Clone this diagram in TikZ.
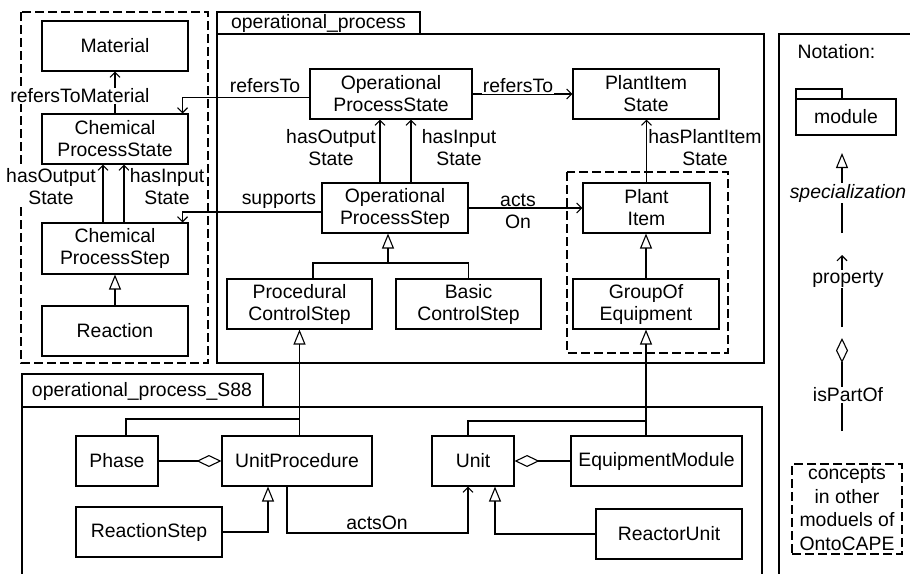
\documentclass[tikz,border=0pt]{standalone}
\usepackage{fontspec}
\setmainfont{Liberation Sans}
\usetikzlibrary{arrows.meta}
\begin{document}
\begin{tikzpicture}[x=1pt,y=-1pt,
  every node/.style={font=\fontsize{19.4}{22}\selectfont},
  box/.style={draw, line width=1.1pt, align=center, inner sep=0pt, minimum height=50pt},
  lbl/.style={fill=white, align=center, inner sep=1pt},
  plain/.style={align=center, inner sep=1pt},
  ln/.style={line width=1.1pt},
  prop/.style={ln, -{Straight Barb[length=5pt,width=10pt]}},
  spec/.style={ln, -{Triangle[open,length=15pt,width=12pt]}},
  aggr/.style={ln, -{Diamond[open,length=25pt,width=12pt]}},
  dashbox/.style={line width=1.1pt, dash pattern=on 9pt off 4pt},
]
\useasboundingbox (0,0) rectangle (910,573);

% module frames
\draw[dashbox] (21,12) rectangle (208,363);
\draw[dashbox] (567,172) rectangle (728,353);
\draw[ln] (217,12) rectangle (420,34);
\draw[ln] (217,34) rectangle (764,363);
\node (optab) at (318.5,23) {operational\_process};
\draw[ln] (22,374) rectangle (263,407);
\draw[ln] (22,590) -- (22,407) -- (762,407) -- (762,590);
\node (s88tab) at (142,391) {operational\_process\_S88};
\draw[ln] (779,590) -- (779,34) -- (920,34);

% classes
\node[box, minimum width=146pt] (mat) at (115,46) {Material};
\node[box, minimum width=146pt] (cps) at (115,139) {Chemical\\ProcessState};
\node[box, minimum width=146pt, minimum height=51pt] (cstep) at (115,248.5) {Chemical\\ProcessStep};
\node[box, minimum width=146pt] (reac) at (115,331) {Reaction};
\node[box, minimum width=162pt] (opst) at (391,94) {Operational\\ProcessState};
\node[box, minimum width=146pt] (pist) at (646,94) {PlantItem\\State};
\node[box, minimum width=146pt] (opstep) at (395,208) {Operational\\ProcessStep};
\node[box, minimum width=127pt] (pitem) at (646.5,208) {Plant\\Item};
\node[box, minimum width=145pt] (pcs) at (299.5,304) {Procedural\\ControlStep};
\node[box, minimum width=145pt] (bcs) at (468.5,304) {Basic\\ControlStep};
\node[box, minimum width=146pt] (goe) at (646,304) {GroupOf\\Equipment};
\node[box, minimum width=82pt] (phase) at (117,461) {Phase};
\node[box, minimum width=150pt] (up) at (297,461) {UnitProcedure};
\node[box, minimum width=146pt] (rs) at (149,532) {ReactionStep};
\node[box, minimum width=82pt] (unit) at (473,461) {Unit};
\node[box, minimum width=171pt] (em) at (656.5,461) {EquipmentModule};
\node[box, minimum width=146pt] (ru) at (669,534) {ReactorUnit};

% junction points of the connectors
\coordinate (tj) at (388,263);
\coordinate (phj) at (299.5,419);
\coordinate (uj) at (646,421);
\coordinate (rowa) at (380,533);

% properties
\draw[prop] (cps.north) -- (mat.south);
\draw[prop] ([yshift=-3.5pt]opst.west) -| ([xshift=-6pt]cps.north east);
\draw[prop] (opst.east) -- (pist.west);
\draw[prop] ([xshift=-12pt]cstep.north) -- ([xshift=-12pt]cps.south);
\draw[prop] ([xshift=9pt]cstep.north) -- ([xshift=9pt]cps.south);
\draw[prop] ([xshift=-15pt]opstep.north) -- ([xshift=-15pt]opstep.north |- opst.south);
\draw[prop] ([xshift=16pt]opstep.north) -- ([xshift=16pt]opstep.north |- opst.south);
\draw[prop] ([yshift=-4pt]opstep.west) -| ([xshift=-6pt]cstep.north east);
\draw[prop] (opstep.east) -- (pitem.west);
\draw[prop] (pitem.north) -- (pitem.north |- pist.south);
\draw[prop] ([xshift=-10pt]up.south) |- (rowa) -| ([xshift=-5pt]unit.south);

% specializations
\draw[spec] (reac.north) -- (cstep.south);
\draw[ln] ([xshift=13.5pt]pcs.north) |- (tj) -| (bcs.north);
\draw[spec] (tj) -- (tj |- opstep.south);
\draw[spec] (goe.north) -- (goe.north |- pitem.south);
\draw[spec] (pcs.south |- up.north) -- (pcs.south);
\draw[ln] ([xshift=9pt]phase.north) |- (phj);
\draw[spec] (goe.south |- em.north) -- (goe.south);
\draw[ln] ([xshift=-5pt]unit.north) |- (uj);
\draw[spec] (rs.east) -| ([xshift=-29pt]up.south);
\draw[spec] (ru.west) -| ([xshift=22pt]unit.south);

% aggregations
\draw[aggr] (phase.east) -- (up.west);
\draw[aggr] (em.west) -- (unit.east);

% property names
\node[lbl] (lrtm) at (80,96) {refersToMaterial};
\node[lbl] (lrt1) at (265,86) {refersTo};
\node[lbl] (lrt2) at (518,86) {refersTo};
\node[lbl] (lcho) at (51,187) {hasOutput\\State};
\node[lbl] (lchi) at (167,187) {hasInput\\State};
\node[lbl] (lopo) at (331,148) {hasOutput\\State};
\node[lbl] (lopi) at (459,148) {hasInput\\State};
\node[lbl] (lpis) at (705,148) {hasPlantItem\\State};
\node[lbl] (lsup) at (279,200) {supports};
\node[plain] (lact) at (518,211) {acts\\On};
\node[lbl] (lact2) at (377,523) {actsOn};

% notation
\node[anchor=west] (ntitle) at (794,52) {Notation:};
\draw[ln] (796,89) rectangle (842,99);
\draw[ln] (796,99) rectangle (896,135);
\node (nmod) at (846,117) {module};
\coordinate (ns1) at (842,233);
\coordinate (ns2) at (842,153);
\draw[spec] (ns1) -- (ns2);
\node[lbl] (nspec) at (848,193) {\itshape specialization};
\coordinate (np1) at (842,327);
\coordinate (np2) at (842,255);
\draw[prop] (np1) -- (np2);
\node[lbl] (nprop) at (848,279) {property};
\coordinate (na1) at (842,431);
\coordinate (na2) at (842,338);
\draw[aggr] (na1) -- (na2);
\node[lbl] (npart) at (848,395) {isPartOf};
\node[dashbox, draw, align=center, inner sep=0pt, minimum width=110pt, minimum height=90pt,
      font=\fontsize{19.4}{23.5}\selectfont] (nconc) at (847,509) {concepts\\in other\\moduels of\\OntoCAPE};
\end{tikzpicture}
\end{document}
